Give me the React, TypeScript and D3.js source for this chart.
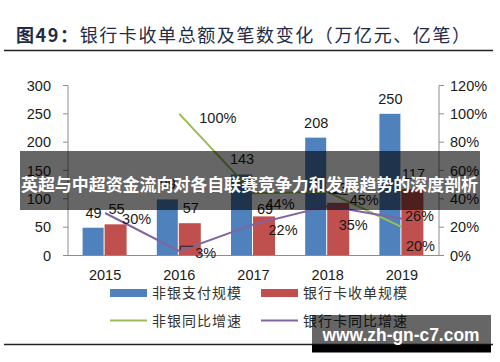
import React from "react";
import * as d3 from "d3";

const years = ["2015", "2016", "2017", "2018", "2019"];
const nonBankScale = [49, 99, 143, 208, 250];
const bankCardScale = [55, 57, 69, 93, 117];
const nonBankGrowth: (number | null)[] = [null, 1.0, 0.44, 0.45, 0.2];
const bankCardGrowth = [0.3, 0.03, 0.22, 0.35, 0.26];
const leftTicks = [0, 50, 100, 150, 200, 250, 300];
const rightTicks = [0, 0.2, 0.4, 0.6, 0.8, 1.0, 1.2];
// label offsets (dx, dy) relative to point, for readability
const greenLabelOffsets = [[0, 0], [20, 4], [12, 11], [22, 8], [4, 19]];
const purpleLabelOffsets = [[17, 6], [16, 2], [15, 5], [11, 19], [3, -3]];

const BLUE = "#4F81BD";
const RED = "#C0504D";
const GREEN = "#9BBB59";
const PURPLE = "#8064A2";
const AXIS = "#8c8c8c";
const TXT = "#1a1a1a";
const FONT = "'Liberation Sans', Arial, sans-serif";
const CJK = "'Noto Sans CJK SC', sans-serif";

export default function App() {
  const x = d3.scaleBand<string>().domain(years).range([68, 439]).padding(0);
  const x1 = d3.scaleBand<string>().domain(["a", "b"]).range([0, 44]).padding(0);
  const yL = d3.scaleLinear().domain([0, 300]).range([255.5, 85.5]);
  const yR = d3.scaleLinear().domain([0, 1.2]).range([255.5, 85.5]);
  const cx = (y: string) => (x(y) as number) + x.bandwidth() / 2;

  const line = d3
    .line<[string, number | null]>()
    .defined((d) => d[1] !== null)
    .x((d) => cx(d[0]))
    .y((d) => yR(d[1] as number));

  const greenPts = years.map((y, i) => [y, nonBankGrowth[i]] as [string, number | null]);
  const purplePts = years.map((y, i) => [y, bankCardGrowth[i]] as [string, number | null]);

  return (
    <svg width={500} height={362} style={{ position: "absolute", left: 0, top: 0, background: "#fff" }}>
      <rect x={0} y={0} width={500} height={362} fill="#fff" />
      {/* Title */}
      <text x={16} y={42} fontFamily={CJK} fontSize={18} fill="#1f2b48" letterSpacing={1.6}>
        <tspan fontWeight="bold">图49：</tspan>
        <tspan>银行卡收单总额及笔数变化（万亿元、亿笔）</tspan>
      </text>
      <line x1={4} x2={493} y1={50.5} y2={50.5} stroke="#222" strokeWidth={1.3} />

      {/* Bars */}
      {years.map((y, i) => {
        const base = cx(y) - 22.5;
        return (
          <g key={y}>
            <rect x={base + (x1("a") as number)} y={yL(nonBankScale[i])} width={x1.bandwidth() - 1}
              height={yL(0) - yL(nonBankScale[i])} fill={BLUE} />
            <rect x={base + (x1("b") as number)} y={yL(bankCardScale[i])} width={x1.bandwidth()}
              height={yL(0) - yL(bankCardScale[i])} fill={RED} />
          </g>
        );
      })}

      {/* Axes */}
      <line x1={68} x2={68} y1={yL(300)} y2={yL(0)} stroke={AXIS} />
      <line x1={439} x2={439} y1={yR(1.2)} y2={yR(0)} stroke={AXIS} />
      <line x1={68} x2={439} y1={yL(0)} y2={yL(0)} stroke={AXIS} />
      {leftTicks.map((t) => (
        <g key={"l" + t}>
          <line x1={63} x2={68} y1={yL(t)} y2={yL(t)} stroke={AXIS} />
          <text x={51} y={yL(t)} dy="0.36em" textAnchor="end" fontFamily={FONT} fontSize={14.5} fill={TXT}>
            {t}
          </text>
        </g>
      ))}
      {rightTicks.map((t) => (
        <g key={"r" + t}>
          <line x1={439} x2={444} y1={yR(t)} y2={yR(t)} stroke={AXIS} />
          <text x={450} y={yR(t)} dy="0.36em" textAnchor="start" fontFamily={FONT} fontSize={14.5} fill={TXT}>
            {d3.format(".0%")(t)}
          </text>
        </g>
      ))}
      {years.map((y) => (
        <text key={"x" + y} x={cx(y)} y={280} textAnchor="middle" fontFamily={FONT} fontSize={14.5} fill={TXT}>
          {y}
        </text>
      ))}

      {/* Lines */}
      <path d={line(greenPts) || ""} fill="none" stroke={GREEN} strokeWidth={2} />
      <path d={line(purplePts) || ""} fill="none" stroke={PURPLE} strokeWidth={2} />

      {/* Bar labels */}
      {years.map((y, i) => {
        const base = cx(y) - 22.5;
        const aC = base + (x1("a") as number) + x1.bandwidth() / 2;
        const bC = base + (x1("b") as number) + x1.bandwidth() / 2;
        return (
          <g key={"lab" + y} fontFamily={FONT} fontSize={14.5} fill={TXT} textAnchor="middle">
            <text x={aC} y={yL(nonBankScale[i]) - 10}>{nonBankScale[i]}</text>
            <text x={bC + 1} y={yL(bankCardScale[i]) - (i === 2 ? 2 : 10)}>{bankCardScale[i]}</text>
          </g>
        );
      })}

      {/* Growth labels */}
      {years.map((y, i) => {
        const g = nonBankGrowth[i];
        if (g === null) return null;
        const [dx, dy] = greenLabelOffsets[i];
        return (
          <text key={"g" + y} x={cx(y) + dx} y={yR(g) + dy} dy="0.36em" fontFamily={FONT} fontSize={14.5} fill={TXT}>
            {d3.format(".0%")(g)}
          </text>
        );
      })}
      {years.map((y, i) => {
        const g = bankCardGrowth[i];
        const [dx, dy] = purpleLabelOffsets[i];
        return (
          <text key={"p" + y} x={cx(y) + dx} y={yR(g) + dy} dy="0.36em" fontFamily={FONT} fontSize={14.5} fill={TXT}>
            {d3.format(".0%")(g)}
          </text>
        );
      })}
      {/* leader lines */}
      <path d={`M${cx("2016") + 1},${yR(bankCardGrowth[1]) - 1} V${yR(bankCardGrowth[1]) - 5} H${cx("2016") + 14}`}
        fill="none" stroke="#222" strokeWidth={1} />
      <line x1={cx("2018") + 1} y1={yR(nonBankGrowth[3] as number) + 1} x2={cx("2018") + 20}
        y2={yR(nonBankGrowth[3] as number) + 3} stroke="#222" strokeWidth={1} />

      {/* Legend */}
      <rect x={110} y={289} width={37} height={8} fill={BLUE} />
      <text x={152} y={298} fontFamily={CJK} fontSize={14} fill="#333" letterSpacing={1}>非银支付规模</text>
      <rect x={261} y={289} width={37} height={8} fill={RED} />
      <text x={303} y={298} fontFamily={CJK} fontSize={14} fill="#333" letterSpacing={1}>银行卡收单规模</text>
      <line x1={110} x2={147} y1={320.5} y2={320.5} stroke={GREEN} strokeWidth={2} />
      <text x={152} y={326} fontFamily={CJK} fontSize={14} fill="#333" letterSpacing={1}>非银同比增速</text>
      <line x1={261} x2={298} y1={320.5} y2={320.5} stroke={PURPLE} strokeWidth={2} />
      <text x={303} y={326} fontFamily={CJK} fontSize={14} fill="#333" letterSpacing={1}>银行卡同比增速</text>
      <line x1={4} x2={493} y1={344.5} y2={344.5} stroke="#222" strokeWidth={1.3} />

      {/* Overlay banner */}
      <rect x={20} y={151} width={460} height={59} fill="rgba(0,0,0,0.6)" />
      <text x={21} y={191} fontFamily={CJK} fontSize={17} fontWeight="bold" fill="#fff"
        textLength={457} lengthAdjust="spacingAndGlyphs">
        英超与中超资金流向对各自联赛竞争力和发展趋势的深度剖析
      </text>

      {/* Watermark */}
      <rect x={312} y={315} width={179} height={30} fill="rgba(0,0,0,0.6)" />
      <rect x={312} y={345} width={179} height={7.5} fill="#000" />
      <text x={322.5} y={341} fontFamily={FONT} fontSize={18} fontWeight="bold" fill="#fff"
        textLength={157} lengthAdjust="spacingAndGlyphs">
        www.zh-gn-c7.com
      </text>
    </svg>
  );
}
